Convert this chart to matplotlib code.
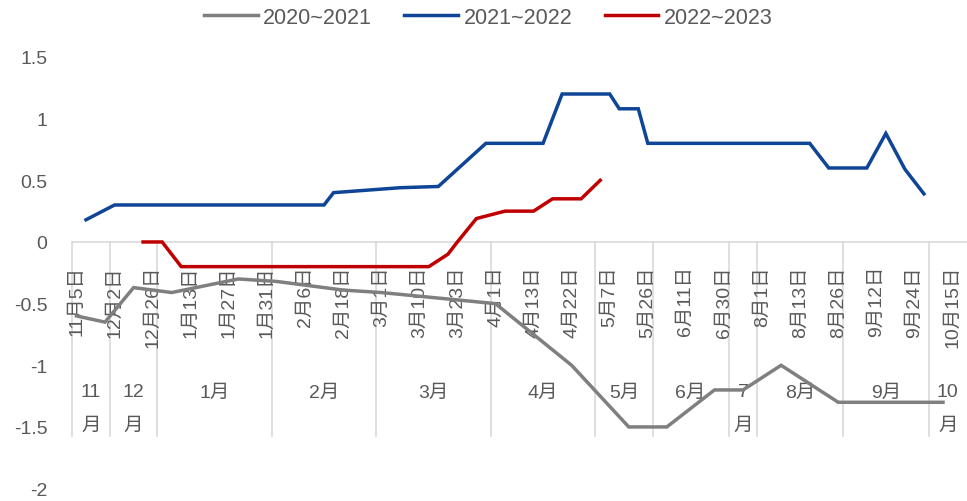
import matplotlib
matplotlib.use("Agg")
import matplotlib.pyplot as plt
import numpy as np

plt.rcParams['font.family'] = ['Liberation Sans', 'Noto Sans CJK SC', 'DejaVu Sans']

# ---- category axis (combined dates) ----
categories = [
    '11月5日', '11月12日', '11月19日', '11月26日',
    '12月2日', '12月9日', '12月16日', '12月23日', '12月26日',
    '1月4日', '1月7日', '1月10日', '1月13日', '1月17日', '1月20日', '1月24日', '1月27日',
    '1月28日', '1月29日', '1月30日', '1月31日',
    '2月1日', '2月2日', '2月4日', '2月6日', '2月9日', '2月13日', '2月15日', '2月18日',
    '2月21日', '2月24日', '2月27日',
    '3月1日', '3月3日', '3月6日', '3月8日', '3月10日', '3月13日', '3月16日', '3月20日',
    '3月23日', '3月25日', '3月28日', '3月30日',
    '4月1日', '4月4日', '4月7日', '4月10日', '4月13日', '4月15日', '4月18日', '4月20日',
    '4月22日', '4月25日', '4月28日',
    '5月4日', '5月7日', '5月12日', '5月16日', '5月21日', '5月26日',
    '6月2日', '6月5日', '6月8日', '6月11日', '6月16日', '6月20日', '6月25日', '6月30日',
    '7月8日', '7月16日', '7月24日',
    '8月1日', '8月4日', '8月7日', '8月10日', '8月13日', '8月16日', '8月19日', '8月22日', '8月26日',
    '9月2日', '9月6日', '9月9日', '9月12日', '9月15日', '9月19日', '9月22日', '9月24日', '9月27日',
    '10月8日', '10月11日', '10月15日', '10月20日',
]
label_step = 4

# ---- series ----
gray_name = '2020~2021'
gray_dates = ['11月5日', '11月26日', '12月16日', '1月7日', '1月28日', '2月1日', '2月18日', '3月1日',
              '4月1日', '4月22日', '5月16日', '6月5日', '6月25日', '7月16日', '8月7日', '8月26日', '10月11日']
gray_values = [-0.6, -0.65, -0.37, -0.41, -0.30, -0.32, -0.39, -0.41,
               -0.50, -1.0, -1.5, -1.5, -1.2, -1.2, -1.0, -1.3, -1.3]

blue_name = '2021~2022'
blue_dates = ['11月12日', '12月2日', '2月13日', '2月15日', '3月6日', '3月16日', '3月30日', '4月15日',
              '4月20日', '5月7日', '5月12日', '5月21日', '5月26日', '8月16日', '8月22日', '9月9日',
              '9月15日', '9月22日', '9月27日']
blue_values = [0.18, 0.30, 0.30, 0.40, 0.44, 0.45, 0.80, 0.80,
               1.20, 1.20, 1.08, 1.08, 0.80, 0.80, 0.60, 0.60,
               0.88, 0.59, 0.39]

red_name = '2022~2023'
red_dates = ['12月23日', '1月4日', '1月10日', '3月13日', '3月20日', '3月23日', '3月28日', '4月4日',
             '4月13日', '4月18日', '4月25日', '5月4日']
red_values = [0.0, 0.0, -0.2, -0.2, -0.1, 0.0, 0.19, 0.25, 0.25, 0.35, 0.35, 0.5]

y_ticks = [1.5, 1, 0.5, 0, -0.5, -1, -1.5, -2]
y_tick_labels = ['1.5', '1', '0.5', '0', '-0.5', '-1', '-1.5', '-2']

GRAY = '#7F7F7F'
BLUE = '#0F4596'
RED = '#C00000'
TXT = '#595959'
GRID = '#D9D9D9'
FS = 14

W, H = 967, 502
fig = plt.figure(figsize=(W / 100, H / 100), dpi=100)
ax = fig.add_axes([71.7 / W, 1 - 489.6 / H, (966.8 - 71.7) / W, (489.6 - 58) / H])
ax.set_xlim(-0.5, len(categories) - 0.5)
ax.set_ylim(-2, 1.5)
for s in ax.spines.values():
    s.set_visible(False)

pos = {c: i for i, c in enumerate(categories)}

def draw(dates, vals, color, name):
    xs = [pos[d] for d in dates]
    ax.plot(xs, vals, color=color, lw=2.5, label=name, zorder=5, solid_joinstyle='miter')

draw(gray_dates, gray_values, GRAY, gray_name)
draw(blue_dates, blue_values, BLUE, blue_name)
draw(red_dates, red_values, RED, red_name)

# y axis
ax.set_yticks(y_ticks)
ax.set_yticklabels(y_tick_labels)
ax.tick_params(axis='y', length=0, pad=17.5, labelsize=FS, labelcolor=TXT)
ax.set_xticks([])

# category axis at y=0
ax.axhline(0, color=GRID, lw=1.2, zorder=1)

# date labels
for i, c in enumerate(categories):
    if i % label_step == 0:
        ax.annotate(c, xy=(i, 0), xytext=(0, -16.5), textcoords='offset points',
                    rotation=90, ha='center', va='top', fontsize=FS, color=TXT, zorder=3,
                    annotation_clip=False)

# month groups
months = [c.split('月')[0] for c in categories]
groups = []
start = 0
for i in range(1, len(months) + 1):
    if i == len(months) or months[i] != months[start]:
        groups.append((months[start], start, i - 1))
        start = i

sep_bottom = -194 / 123.3
for m, a, b in groups:
    ax.plot([a - 0.5, a - 0.5], [0, sep_bottom], color=GRID, lw=1.2, zorder=1, clip_on=False)
    xc = (a + b) / 2
    n = b - a + 1
    if n <= 5:
        ax.annotate(m, xy=(xc, 0), xytext=(0, -108), textcoords='offset points',
                    ha='center', va='center', fontsize=FS, color=TXT, annotation_clip=False)
        ax.annotate('月', xy=(xc, 0), xytext=(0, -132), textcoords='offset points',
                    ha='center', va='center', fontsize=FS, color=TXT, annotation_clip=False)
    else:
        ax.annotate(m + '月', xy=(xc, 0), xytext=(0, -108), textcoords='offset points',
                    ha='center', va='center', fontsize=FS, color=TXT, annotation_clip=False)

leg = fig.legend(loc='center', bbox_to_anchor=(0.505, 1 - 18 / H), ncol=3, frameon=False,
                 fontsize=15.5, handlelength=2.5, handletextpad=0.25, columnspacing=1.5)
for t in leg.get_texts():
    t.set_color(TXT)

fig.savefig('out.png', dpi=100, facecolor='white')
